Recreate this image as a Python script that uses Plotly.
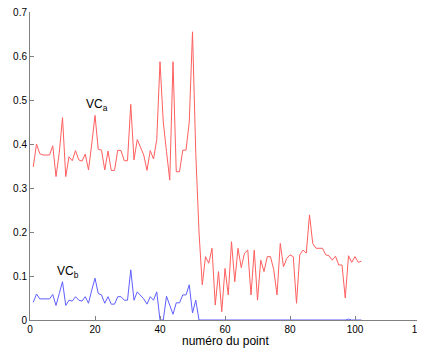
import plotly.graph_objects as go

x_red = list(range(1, 103))
vc_a = [0.348, 0.40, 0.378, 0.375, 0.375, 0.375, 0.396, 0.326, 0.38, 0.46,
        0.326, 0.371, 0.362, 0.385, 0.364, 0.361, 0.377, 0.341, 0.40, 0.465,
        0.388, 0.386, 0.341, 0.384, 0.34, 0.34, 0.386, 0.385, 0.362, 0.362,
        0.49, 0.364, 0.41, 0.394, 0.375, 0.34, 0.385, 0.366, 0.41, 0.587,
        0.45, 0.383, 0.318, 0.587, 0.337, 0.337, 0.386, 0.386, 0.45, 0.655,
        0.38, 0.2, 0.08, 0.144, 0.129, 0.163, 0.034, 0.11, 0.019, 0.117,
        0.057, 0.178, 0.087, 0.163, 0.119, 0.152, 0.159, 0.057, 0.159, 0.045,
        0.136, 0.11, 0.144, 0.144, 0.114, 0.057, 0.174, 0.121, 0.14, 0.148,
        0.144, 0.038, 0.148, 0.159, 0.152, 0.239, 0.174, 0.163, 0.163, 0.163,
        0.148, 0.146, 0.136, 0.145, 0.125, 0.125, 0.05, 0.146, 0.131, 0.144,
        0.131, 0.134]

x_blue = list(range(1, 103))
vc_b = [0.04, 0.059, 0.048, 0.048, 0.048, 0.048, 0.058, 0.033, 0.06, 0.087,
        0.033, 0.045, 0.043, 0.053, 0.045, 0.043, 0.053, 0.038, 0.068, 0.095,
        0.06, 0.057, 0.038, 0.053, 0.036, 0.036, 0.053, 0.053, 0.045, 0.045,
        0.114, 0.045, 0.064, 0.057, 0.048, 0.036, 0.053, 0.045, 0.064, 0.0,
        0.0, 0.054, 0.034, 0.013, 0.039, 0.039, 0.057, 0.057, 0.08, 0.016,
        0.045, 0.0] + [0.0] * 45 + [0.002] + [0.0] * 4

x_ticks = [0, 20, 40, 60, 80, 100, 120]
y_ticks = [0, 0.1, 0.2, 0.3, 0.4, 0.5, 0.6, 0.7]
y_tick_labels = ["0", "0.1", "0.2", "0.3", "0.4", "0.5", "0.6", "0.7"]

FONT = "Liberation Sans, Arial, sans-serif"

fig = go.Figure()
fig.add_trace(go.Scatter(x=x_red, y=vc_a, mode="lines",
                         line=dict(color="rgb(255,95,95)", width=1), showlegend=False))
fig.add_trace(go.Scatter(x=x_blue, y=vc_b, mode="lines",
                         line=dict(color="rgb(95,95,255)", width=1), showlegend=False))

fig.add_annotation(x=16.5, y=0.488, text="VC<sub>a</sub>", showarrow=False,
                   xanchor="left", yanchor="middle",
                   font=dict(family=FONT, size=12, color="black"))
fig.add_annotation(x=7.6, y=0.11, text="VC<sub>b</sub>", showarrow=False,
                   xanchor="left", yanchor="middle",
                   font=dict(family=FONT, size=12, color="black"))
fig.add_annotation(x=0.5, y=-0.068, xref="paper", yref="paper",
                   text="numéro du point", showarrow=False,
                   xanchor="center", yanchor="middle",
                   font=dict(family=FONT, size=12, color="black"))

# page body has an 8px default margin, so the figure is sized/offset to compensate
fig.update_layout(
    width=417, height=341,
    margin=dict(l=22, r=5, t=4, b=29, autoexpand=False),
    paper_bgcolor="white", plot_bgcolor="white",
    font=dict(family=FONT, size=10, color="black"),
    xaxis=dict(range=[0, 120], tickvals=x_ticks, ticks="inside", ticklen=4,
               tickcolor="#808080", showline=True, linecolor="#808080", linewidth=1,
               showgrid=False, zeroline=False, mirror=False, automargin=False,
               ticklabeloverflow="allow",
               tickfont=dict(family=FONT, size=10, color="black")),
    yaxis=dict(range=[0, 0.7], tickvals=y_ticks, ticktext=y_tick_labels,
               ticks="inside", ticklen=4,
               tickcolor="#808080", showline=True, linecolor="#808080", linewidth=1,
               showgrid=False, zeroline=False, mirror=False, automargin=False,
               ticklabeloverflow="allow",
               tickfont=dict(family=FONT, size=10, color="black")),
)

fig.write_html("out.html")
